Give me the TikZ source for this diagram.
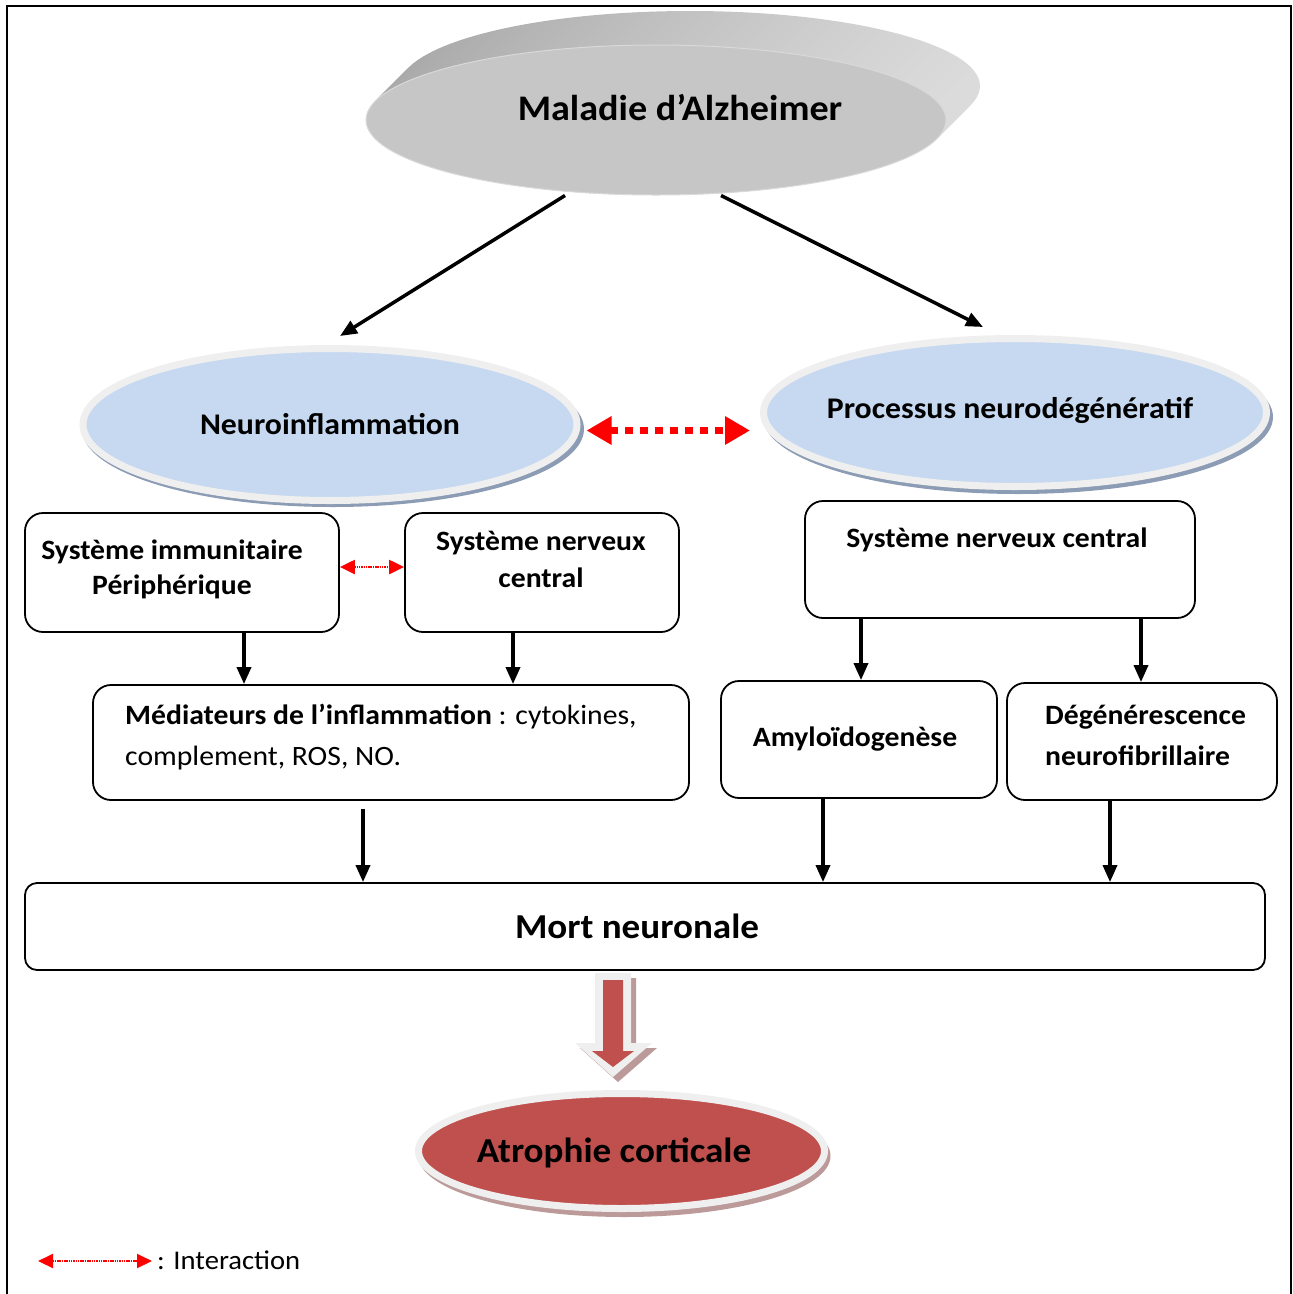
\documentclass[tikz,border=0pt]{standalone}
\usepackage{fontspec}
\setmainfont{Carlito}[FakeStretch=1.06]
\usetikzlibrary{arrows.meta,shapes.geometric,calc}
\definecolor{blueF}{HTML}{C6D9F1}
\definecolor{rimC}{HTML}{EFEFEF}
\definecolor{bshadow}{HTML}{8C9CB4}
\definecolor{redF}{HTML}{C0504D}
\definecolor{rshadow}{HTML}{BC9A9A}
\definecolor{grayF}{HTML}{C6C6C6}
\begin{document}
\begin{tikzpicture}[x=1pt,y=-1pt,
  box/.style={draw=black, line width=1.8pt, rounded corners=18pt, fill=white, inner sep=0pt},
  boxtext/.style={font=\fontsize{28}{35}\selectfont\bfseries, align=center, inner sep=0pt},
  arr/.style={line width=3.5pt, -{Triangle[length=17pt,width=14pt]}},
  oval/.style={ellipse, inner sep=0pt, fill=blueF, draw=rimC, line width=7pt},
  inter/.style={draw=red, dash pattern=on 1.5pt off 0.8pt, line width=2.2pt,
     {Triangle[length=15pt,width=14pt,fill=red]}-{Triangle[length=15pt,width=14pt,fill=red]}}
]
\useasboundingbox (0,0) rectangle (1293,1294);
\begin{scope}
  \clip (0,0) rectangle (1293,1294);
  \draw[line width=2pt] (7,1310) -- (7,6) -- (1291,6) -- (1291,1310);
\end{scope}

% --- Maladie d'Alzheimer disc
\foreach \i in {34,33,...,1}
  \shade[left color=gray!68, right color=gray!28] (656+\i,120-\i) ellipse [x radius=290, y radius=75];
\node[ellipse, inner sep=0pt, fill=grayF, draw=gray!30, line width=1pt,
      minimum width=580, minimum height=150] (mal) at (656,120) {};
\node[font=\fontsize{36}{40}\selectfont\bfseries, inner sep=0pt] (malt) at (680,108) {Maladie d’Alzheimer};

% --- Neuroinflammation
\fill[bshadow] (333,429) ellipse [x radius=251, y radius=78];
\node[oval, minimum width=494, minimum height=152,
      font=\fontsize{30}{34}\selectfont\bfseries] (neuro) at (330,424.5) {Neuroinflammation};

% --- Processus neurodegeneratif
\fill[bshadow] (1018,417) ellipse [x radius=255, y radius=77];
\node[oval, minimum width=503, minimum height=148] (proc) at (1015,412.5) {};
\node[font=\fontsize{30}{34}\selectfont\bfseries, inner sep=0pt] (proct) at (1010,410) {Processus neurodégénératif};

% --- arrows from Maladie
\coordinate (nEnd) at ($(neuro.north)+(10,-9)$);
\coordinate (pEnd) at ($(proc.north)+(-32,-8)$);
\draw[arr] ($(mal.south)+(-91,0)$) -- (nEnd);
\draw[arr] ($(mal.south)+(65,0)$) -- (pEnd);

% --- big red interaction
\draw[draw=red, line width=7pt, dash pattern=on 8pt off 7pt,
      {Triangle[length=25pt,width=27pt,fill=red]}-{Triangle[length=25pt,width=27pt,fill=red]}]
      ($(neuro.east)+(6,6)$) -- ($(proc.west)+(-10,18)$);

% --- left boxes
\node[box, minimum width=314, minimum height=119] (sip) at (182,572.5) {};
\node[boxtext] (sipt) at (172,569.5) {Système immunitaire\\Périphérique};
\node[box, minimum width=274, minimum height=119] (sncl) at (542,572.5) {};
\node[boxtext, font=\fontsize{28}{37}\selectfont\bfseries] (snclt) at (541,559.5) {Système nerveux\\central};
\draw[inter] (sip.east |- 0,567) -- (sncl.west |- 0,567);

\node[box, minimum width=596, minimum height=115] (med) at (391,742.5) {};
\node[anchor=west, inner sep=0pt, align=left, font=\fontsize{28}{41}\selectfont] (medt) at (125,737.5)
  {\textbf{Médiateurs de l’inflammation} : cytokines,\\complement, ROS, NO.};
\draw[arr] (sip.south -| 244,0) -- (med.north -| 244,0);
\draw[arr] (sncl.south -| 513,0) -- (med.north -| 513,0);

% --- right boxes
\node[box, minimum width=390, minimum height=117] (sncr) at (1000,559.5) {};
\node[boxtext] (sncrt) at (997,540) {Système nerveux central};
\node[box, minimum width=276, minimum height=117, font=\fontsize{28}{35}\selectfont\bfseries] (amy) at (859,739.5) {Amyloïdogenèse\hspace*{8pt}};
\node[box, minimum width=270, minimum height=117] (deg) at (1142,741.5) {};
\node[anchor=west, inner sep=0pt, align=left, font=\fontsize{28}{41}\selectfont\bfseries] (degt) at (1045,735.5)
  {Dégénérescence\\neurofibrillaire};
\draw[arr] (sncr.south -| 861,0) -- (amy.north -| 861,0);
\draw[arr] (sncr.south -| 1141,0) -- (deg.north -| 1141,0);

% --- Mort neuronale
\node[box, rounded corners=12pt, minimum width=1240, minimum height=87,
      font=\fontsize{35}{40}\selectfont\bfseries] (mort) at (645,926.5) {Mort neuronale\hspace*{16pt}};
\draw[arr] ($(med.south -| 363,0)+(0,8)$) -- (mort.north -| 363,0);
\draw[arr] (amy.south -| 823,0) -- (mort.north -| 823,0);
\draw[arr] (deg.south -| 1110,0) -- (mort.north -| 1110,0);

% --- Atrophie corticale
\fill[rshadow] (624.5,1156) ellipse [x radius=206, y radius=61];
\node[ellipse, inner sep=0pt, fill=redF, draw=rimC, line width=7pt,
      minimum width=406, minimum height=115] (atro) at (621.5,1151) {};
\node[font=\fontsize{35}{40}\selectfont\bfseries, inner sep=0pt] (atrot) at (614,1153) {Atrophie corticale};

% --- big block arrow from Mort to Atrophie
\fill[rshadow] (600,978) -- (636,978) -- (636,1048) -- (657,1048) -- (618,1082) -- (580,1048) -- (600,1048) -- cycle;
\fill[rimC] (595,973) -- (631,973) -- (631,1043) -- (652,1043) -- (613,1077) -- (575,1043) -- (595,1043) -- cycle;
\fill[redF] (603,980) -- (623,980) -- (623,1051) -- (634,1051) -- (613,1067) -- (592,1051) -- (603,1051) -- cycle;

% --- legend
\coordinate (lgA) at (38,1261);
\coordinate (lgB) at (152,1261);
\draw[inter, line width=2pt] (lgA) -- (lgB);
\node[anchor=west, inner sep=0pt, font=\fontsize{27}{30}\selectfont] (lgt) at (157,1260) {: Interaction};
\end{tikzpicture}
\end{document}
